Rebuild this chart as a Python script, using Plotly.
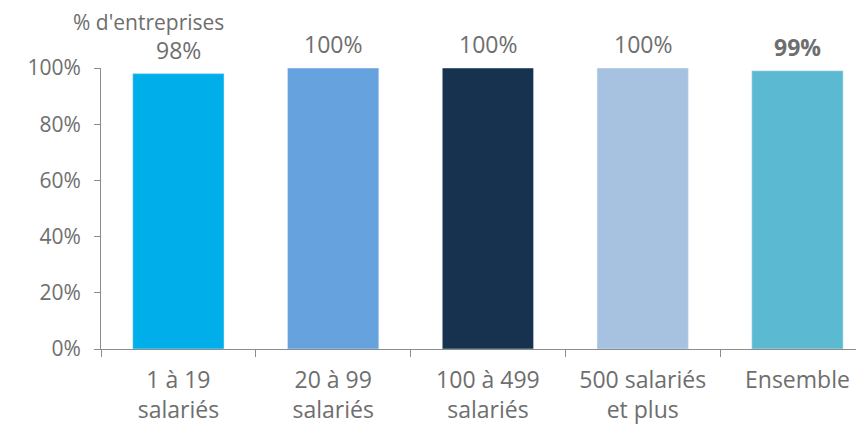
import plotly.graph_objects as go

categories = ["1 à 19<br>salariés", "20 à 99<br>salariés", "100 à 499<br>salariés",
              "500 salariés<br>et plus", "Ensemble"]
values = [0.98, 1.00, 1.00, 1.00, 0.99]
labels = ["98%", "100%", "100%", "100%", "<b>99%</b>"]
colors = ["#00AEEA", "#65A2DE", "#17324F", "#A7C2E0", "#5BB9D2"]

FONT = "'Open Sans', Lato, sans-serif"
GREY = "#6E6E6E"

fig = go.Figure(go.Bar(
    x=categories,
    y=values,
    width=0.59,
    marker_color=colors,
    hoverinfo="x+y",
))

# data labels sit a bit higher above the bars than plotly's own text
for cat, val, lab in zip(categories, values, labels):
    fig.add_annotation(
        x=cat, y=val, text=lab, showarrow=False,
        yanchor="middle", yshift=24,
        font=dict(size=23, color=GREY, family=FONT),
    )

fig.add_annotation(
    text="% d'entreprises", xref="paper", yref="paper",
    x=0.0616, y=1.0, yshift=46, xanchor="center", yanchor="middle",
    showarrow=False, font=dict(size=21, color=GREY, family=FONT),
)

fig.update_xaxes(
    range=[-0.5, 4.43],
    showline=True, linecolor="#8C8C8C", linewidth=1,
    ticks="outside", tickson="boundaries", ticklen=7, tickcolor="#8C8C8C",
    ticklabelstandoff=10,
    tickfont=dict(size=23, color=GREY, family=FONT),
)
fig.update_yaxes(
    range=[0, 1], tickvals=[0, 0.2, 0.4, 0.6, 0.8, 1.0], tickformat=".0%",
    showgrid=False, zeroline=False,
    showline=True, linecolor="#8C8C8C", linewidth=1,
    ticks="outside", ticklen=6, tickcolor="#8C8C8C",
    ticklabelstandoff=9,
    tickfont=dict(size=21, color=GREY, family=FONT),
)

# the page body adds an 8px offset, margins compensate for it
fig.update_layout(
    width=864, height=426,
    margin=dict(l=93, r=8, t=60, b=85, autoexpand=False),
    plot_bgcolor="white", paper_bgcolor="white",
    showlegend=False,
    font=dict(family=FONT, color=GREY),
)

fig.write_html("out.html")
